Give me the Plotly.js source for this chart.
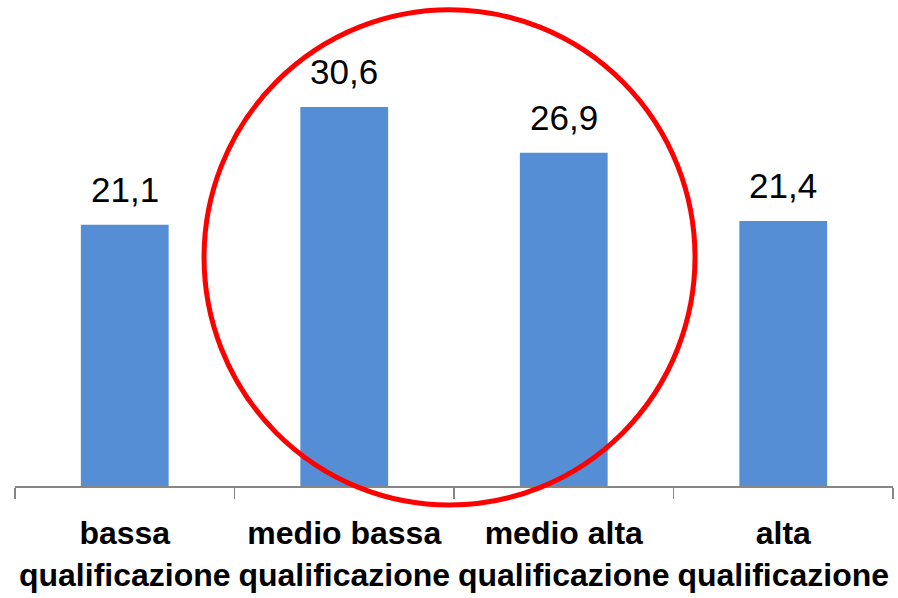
<!DOCTYPE html>
<html>
<head>
<meta charset="utf-8">
<script src="https://cdn.plot.ly/plotly-3.0.1.min.js"></script>
<style>html,body{margin:0;padding:0;background:#fff;}#chart{width:898px;height:598px;}</style>
</head>
<body>
<div id="chart"></div>
<script>
const categories = ["bassa<br>qualificazione", "medio bassa<br>qualificazione", "medio alta<br>qualificazione", "alta<br>qualificazione"];
const values = [21.1, 30.6, 26.9, 21.4];
const valueLabels = ["21,1", "30,6", "26,9", "21,4"];

const trace = {
  type: "bar",
  x: categories,
  y: values,
  marker: {color: "#558ED5"},
  hoverinfo: "none"
};

const annotations = categories.map((c, i) => ({
  x: c, y: values[i], xref: "x", yref: "y",
  text: valueLabels[i], showarrow: false,
  yanchor: "bottom", yshift: 14,
  font: {family: "Liberation Sans, Arial, sans-serif", size: 35, color: "#000"}
}));

const layout = {
  width: 898, height: 598,
  margin: {l: 15, r: 5, t: 0, b: 112},
  paper_bgcolor: "#fff", plot_bgcolor: "#fff",
  bargap: 0.6,
  showlegend: false,
  xaxis: {
    type: "category",
    showline: true, linecolor: "#868686", linewidth: 1.5,
    ticks: "outside", tickson: "boundaries", ticklen: 11, tickcolor: "#868686", tickwidth: 1.5,
    tickangle: 0,
    ticklabelstandoff: 18,
    tickfont: {family: "Liberation Sans, Arial, sans-serif", size: 32, color: "#000", weight: "bold"},
    showgrid: false, zeroline: false, fixedrange: true
  },
  yaxis: {
    range: [0, 39.24], visible: false, showgrid: false, zeroline: false, fixedrange: true
  },
  annotations: annotations,
  shapes: [{
    type: "circle", xref: "paper", yref: "paper",
    x0: 0.2153, x1: 0.7745, y0: -0.039, y1: 0.980,
    line: {color: "#FF0000", width: 5}
  }]
};

Plotly.newPlot("chart", [trace], layout, {displayModeBar: false, staticPlot: true});
</script>
</body>
</html>
